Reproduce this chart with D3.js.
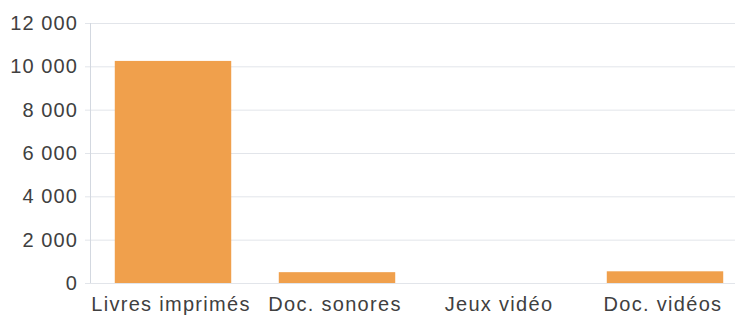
<!DOCTYPE html>
<html>
<head>
<meta charset="utf-8">
<script src="https://cdn.jsdelivr.net/npm/d3@7"></script>
<style>
  body { margin: 0; background: #fff; }
  text { font-family: "Liberation Sans", Arial, sans-serif; }
</style>
</head>
<body>
<div id="chartContainer"></div>
<script>
const categories = ['Livres imprimés', 'Doc. sonores', 'Jeux vidéo', 'Doc. vidéos'];
const values = [10250, 500, 0, 540];
const yTicks = [0, 2000, 4000, 6000, 8000, 10000, 12000];

const svgWidth = 742;
const svgHeight = 321;
const margin = { top: 23, right: 7, bottom: 38, left: 90 };
const chartWidth = svgWidth - margin.left - margin.right;
const chartHeight = svgHeight - margin.top - margin.bottom;

const svg = d3.select('#chartContainer')
    .append('svg')
    .attr('width', svgWidth)
    .attr('height', svgHeight);

const chart = svg.append('g')
    .attr('transform', `translate(${margin.left}, ${margin.top})`);

const xScale = d3.scaleBand()
    .domain(categories)
    .range([1, 657])
    .paddingInner(0.29)
    .paddingOuter(0.145);

const yScale = d3.scaleLinear()
    .domain([0, 12000])
    .range([chartHeight, 0]);

const fr = d3.formatLocale({ decimal: ',', thousands: '\u00a0', grouping: [3], currency: ['', ' €'] });

// grid + y labels
const yAxis = chart.append('g')
    .attr('class', 'y-axis')
    .call(d3.axisLeft(yScale)
        .tickValues(yTicks)
        .tickFormat(fr.format(',d'))
        .tickSize(-(chartWidth + 5))
        .tickPadding(8))
    .attr('transform', 'translate(-5, 0)');

yAxis.select('.domain').remove();
yAxis.selectAll('.tick line')
    .attr('stroke', '#e2e5ea')
    .attr('x1', 0);
yAxis.selectAll('.tick text')
    .attr('fill', '#404040')
    .attr('font-size', 20)
    .attr('letter-spacing', '1.1px')
    .attr('x', -7);

// axis line
chart.append('line')
    .attr('x1', 0.5).attr('x2', 0.5)
    .attr('y1', 0).attr('y2', chartHeight)
    .attr('stroke', '#d3d8e0');

chart.selectAll('.bar')
    .data(values)
    .enter()
    .append('rect')
    .attr('class', 'bar')
    .attr('x', (d, i) => xScale(categories[i]))
    .attr('y', d => yScale(d))
    .attr('width', xScale.bandwidth())
    .attr('height', d => chartHeight - yScale(d))
    .attr('fill', '#f0a04c');

const xAxis = chart.append('g')
    .attr('class', 'x-axis')
    .attr('transform', `translate(-2, ${chartHeight})`)
    .call(d3.axisBottom(xScale).tickSize(0).tickPadding(10));

xAxis.select('.domain').remove();
xAxis.selectAll('.tick text')
    .attr('fill', '#404040')
    .attr('font-size', 20)
    .attr('letter-spacing', '1.3px')
    .attr('dy', '0.9em');
</script>
</body>
</html>
